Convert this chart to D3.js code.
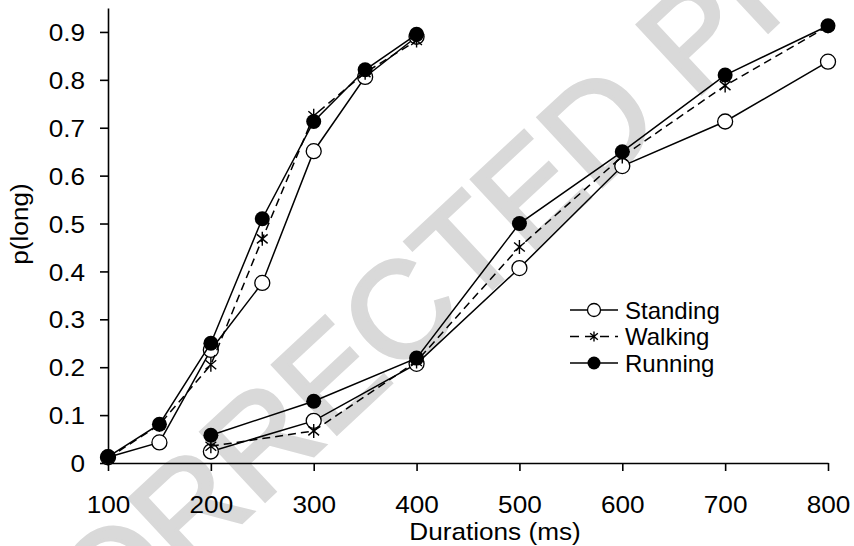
<!DOCTYPE html>
<html>
<head>
<meta charset="utf-8">
<script src="https://cdn.jsdelivr.net/npm/d3@7/dist/d3.min.js"></script>
<style>
  body { margin: 0; background: #fff; }
  svg { display: block; font-family: "Liberation Sans", Arial, sans-serif; }
</style>
</head>
<body>
<div id="chart"></div>
<script>
// durations (ms) for the two ranges
const shortDurations = [100, 150, 200, 250, 300, 350, 400];
const longDurations = [200, 300, 400, 500, 600, 700, 800];

// p(long) per condition
const standingShort = [0.012, 0.043, 0.236, 0.376, 0.651, 0.806, 0.890];
const walkingShort  = [0.010, 0.080, 0.205, 0.468, 0.725, 0.815, 0.882];
const runningShort  = [0.013, 0.081, 0.250, 0.510, 0.713, 0.821, 0.895];

const standingLong = [0.024, 0.088, 0.207, 0.407, 0.620, 0.713, 0.838];
const walkingLong  = [0.035, 0.067, 0.212, 0.451, 0.640, 0.788, 0.912];
const runningLong  = [0.058, 0.129, 0.219, 0.500, 0.650, 0.810, 0.913];

const conditions = ["Standing", "Walking", "Running"];
const xTicks = [100, 200, 300, 400, 500, 600, 700, 800];
const yTicks = [0, 0.1, 0.2, 0.3, 0.4, 0.5, 0.6, 0.7, 0.8, 0.9];
const watermark = "CORRECTED PROOF";

const margin = { top: 8, right: 26, bottom: 83, left: 108 };
const width = 854 - margin.left - margin.right;
const height = 546 - margin.top - margin.bottom;
const stretch = 1.09; // the source text is a little wider than Arial

const svg = d3.select("#chart")
    .append("svg")
    .attr("width", 854)
    .attr("height", 546);

// watermark behind everything
svg.append("text")
    .attr("transform", "translate(36,714) rotate(-43)")
    .style("font-size", "136px")
    .style("fill", "#d9d9d9")
    .style("stroke", "#d9d9d9")
    .style("stroke-width", 4)
    .text(watermark);

const g = svg.append("g")
    .attr("transform", `translate(${margin.left}, ${margin.top})`);

const x = d3.scaleLinear().domain([100, 800]).range([0, width]);
const y = d3.scaleLinear().domain([0, 0.95]).range([height, 0]);

const xAxis = g.append("g")
    .attr("transform", `translate(0, ${height})`)
    .call(d3.axisBottom(x).tickValues(xTicks).tickSize(8).tickSizeOuter(0).tickPadding(6));

const yAxis = g.append("g")
    .call(d3.axisLeft(y).tickValues(yTicks).tickSize(8).tickSizeOuter(0)
        .tickFormat(d => d === 0 ? "0" : d.toFixed(1)));

[xAxis, yAxis].forEach(ax => {
    ax.selectAll("path, line").attr("stroke", "#000").attr("stroke-width", 1.6);
    ax.selectAll("text")
        .style("font-size", "24px")
        .style("fill", "#000")
        .attr("transform", `scale(${stretch},1)`);
});
xAxis.selectAll("text").attr("dy", "1.5em");
yAxis.selectAll("text").attr("x", -23 / stretch).attr("dy", "0.36em");

svg.append("text")
    .attr("transform", `translate(495, 540) scale(${stretch},1)`)
    .attr("text-anchor", "middle")
    .style("font-size", "24px")
    .text("Durations (ms)");

svg.append("text")
    .attr("transform", `translate(28, 224) rotate(-90) scale(${stretch},1)`)
    .attr("text-anchor", "middle")
    .style("font-size", "24px")
    .text("p(long)");

// marker helpers
function asterisk(r) {
    const a = 40 * Math.PI / 180;
    const dx = r * Math.cos(a), dy = r * Math.sin(a);
    return `M0,${-r}L0,${r}M${-dx},${-dy}L${dx},${dy}M${-dx},${dy}L${dx},${-dy}`;
}

function drawMarker(sel, cond, r) {
    if (cond === "Standing") {
        sel.append("circle").attr("r", r).attr("fill", "#fff").attr("stroke", "#000").attr("stroke-width", 1.3);
    } else if (cond === "Running") {
        sel.append("circle").attr("r", r).attr("fill", "#000");
    } else {
        sel.append("path").attr("d", asterisk(r)).attr("stroke", "#000").attr("stroke-width", 1.4).attr("fill", "none");
    }
}

const series = [
    { cond: "Standing", durs: shortDurations, vals: standingShort },
    { cond: "Standing", durs: longDurations, vals: standingLong },
    { cond: "Walking", durs: shortDurations, vals: walkingShort },
    { cond: "Walking", durs: longDurations, vals: walkingLong },
    { cond: "Running", durs: shortDurations, vals: runningShort },
    { cond: "Running", durs: longDurations, vals: runningLong }
];

const line = d3.line()
    .x(d => x(d.dur))
    .y(d => y(d.p));

series.forEach(s => {
    const pts = s.durs.map((d, i) => ({ dur: d, p: s.vals[i] }));
    g.append("path")
        .datum(pts)
        .attr("fill", "none")
        .attr("stroke", "#000")
        .attr("stroke-width", 1.5)
        .attr("stroke-dasharray", s.cond === "Walking" ? "8,5" : null)
        .attr("d", line);

    pts.forEach(p => {
        const m = g.append("g").attr("transform", `translate(${x(p.dur)}, ${y(p.p)})`);
        drawMarker(m, s.cond, s.cond === "Walking" ? 7 : 7.5);
    });
});

// legend
const legend = svg.append("g").attr("transform", "translate(570, 310)");
conditions.forEach((c, i) => {
    const row = legend.append("g").attr("transform", `translate(0, ${i * 26.5})`);
    row.append("line")
        .attr("x1", 0).attr("x2", 48)
        .attr("stroke", "#000").attr("stroke-width", 1.5)
        .attr("stroke-dasharray", c === "Walking" ? "9,6" : null);
    const m = row.append("g").attr("transform", "translate(24, 0)");
    drawMarker(m, c, c === "Walking" ? 5 : 6.5);
    row.append("text")
        .attr("x", 55)
        .attr("dy", "0.36em")
        .style("font-size", "24px")
        .text(c);
});
</script>
</body>
</html>
